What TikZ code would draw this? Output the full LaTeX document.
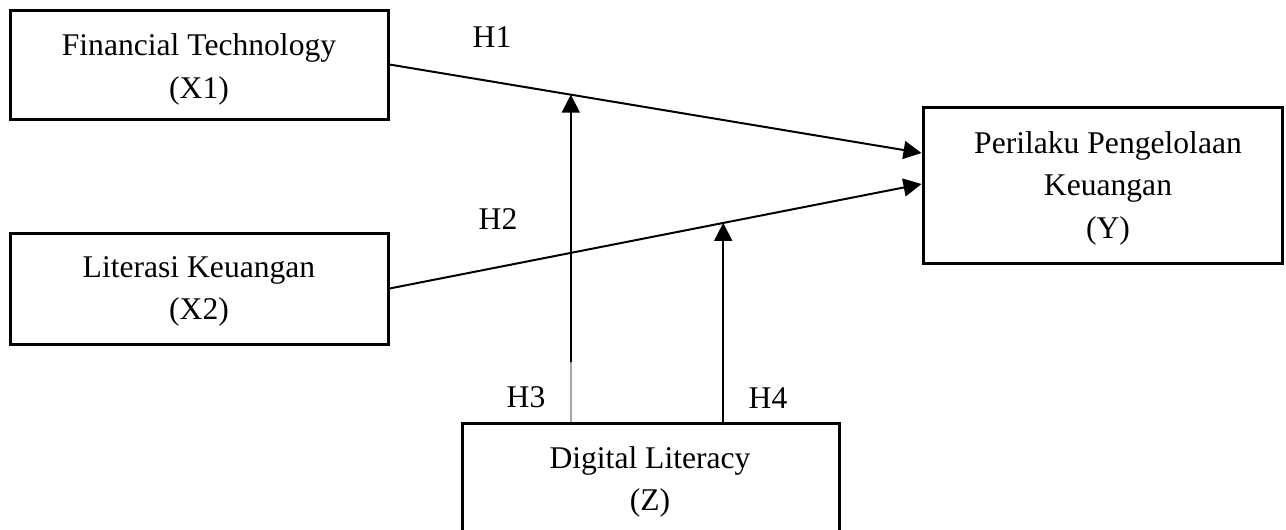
\documentclass[tikz,border=0pt]{standalone}
\usepackage{fontspec}
\setmainfont{Liberation Serif}
\usetikzlibrary{arrows.meta,calc}
\begin{document}
\begin{tikzpicture}[x=0.5pt,y=-0.5pt,
  box/.style={draw,line width=1.5pt,inner sep=0pt},
  txt/.style={align=center,font=\fontsize{15.8}{21.3}\selectfont,inner sep=0pt},
  hlab/.style={anchor=base,font=\fontsize{15.8}{21.3}\selectfont,inner sep=0pt},
  arr/.style={line width=1pt,-{Triangle[length=9pt,width=9pt]}}]
\useasboundingbox (0,0) rectangle (1286,530);
% boxes
\node[box,minimum width=189pt,minimum height=54.5pt] (x1) at (199,64.5) {};
\node[box,minimum width=189pt,minimum height=55.5pt] (x2) at (199,288.5) {};
\node[box,minimum width=179.5pt,minimum height=78pt] (y) at (1102.5,185) {};
\node[box,minimum width=188.5pt,minimum height=58.5pt] (z) at (650.5,481.5) {};
% texts
\node[txt] (x1t) at (199,69.5) {Financial Technology\\(X1)};
\node[txt] (x2t) at (199,291.5) {Literasi Keuangan\\(X2)};
\node[txt] (yt) at (1108,188) {Perilaku Pengelolaan\\Keuangan\\(Y)};
\node[txt] (zt) at (650,482) {Digital Literacy\\(Z)};
% labels
\node[hlab] (h1) at (492,47) {H1};
\node[hlab] (h2) at (498,229) {H2};
\node[hlab] (h3) at (526,407) {H3};
\node[hlab] (h4) at (768,408) {H4};
% connectors
\coordinate (ya) at ($(y.west)+(0,-32)$);
\coordinate (yb) at ($(y.west)+(0,-1)$);
\draw[arr] (x1.east) -- (ya);
\draw[arr] (x2.east) -- (yb);
\coordinate (t3) at ($(x1.east)!0.3408!(ya)$);
\coordinate (t4) at ($(x2.east)!0.6273!(yb)$);
\coordinate (m3) at (t3 |- 0,362);
\draw[gray!70,line width=0.8pt] (t3 |- z.north) -- (m3);
\draw[arr] (m3) -- (t3);
\draw[arr] (t4 |- z.north) -- (t4);
\end{tikzpicture}
\end{document}
